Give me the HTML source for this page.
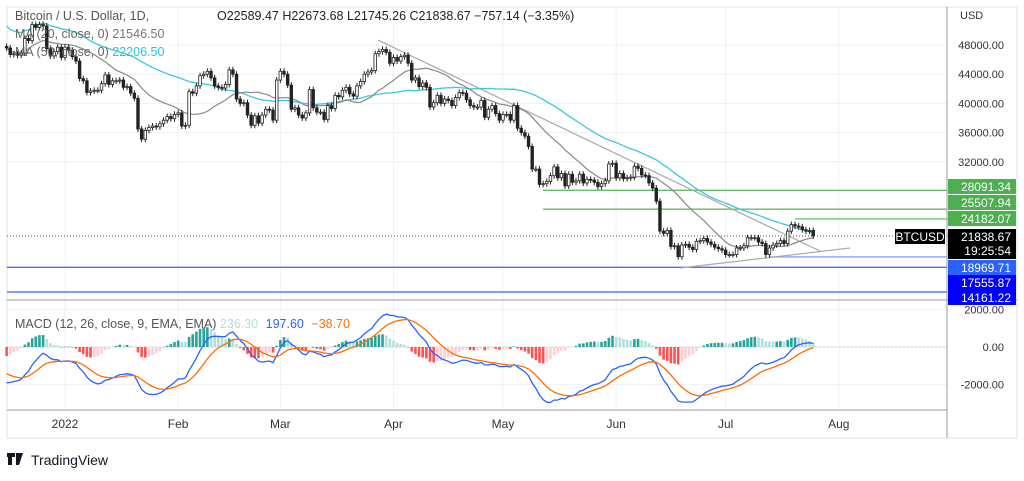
<!DOCTYPE html>
<html><head><meta charset="utf-8"><style>
body{margin:0;background:#fff;font-family:"Liberation Sans",sans-serif;}
svg text{font-family:"Liberation Sans",sans-serif;}
</style></head><body>
<svg id="c" width="1024" height="476" viewBox="0 0 1024 476" xmlns="http://www.w3.org/2000/svg">
<rect x="0" y="0" width="1024" height="476" fill="#fff"/>
<rect x="7" y="7" width="1010" height="431" fill="none" stroke="#e0e3eb"/>
<g id="grid"></g>
<g id="levels"></g>
<g id="price"></g>
<g id="macd"></g>
<line x1="947" y1="7" x2="947" y2="438" stroke="#999"/>
<line x1="7" y1="300" x2="1017" y2="300" stroke="#999"/>
<line x1="7" y1="410" x2="947" y2="410" stroke="#999"/>
<g id="axes"></g>
<g font-size="12.5">
<text x="15" y="20" fill="#555">Bitcoin / U.S. Dollar, 1D,</text>
<text x="217" y="20" fill="#222">O22589.47  H22673.68  L21745.26  C21838.67  −757.14 (−3.35%)</text>
<text x="15" y="38" fill="#666">MA (20, close, 0) <tspan fill="#777">21546.50</tspan></text>
<text x="15" y="56" fill="#666">MA (50, close, 0) <tspan fill="#26c6da">22206.50</tspan></text>
<text x="15" y="328" fill="#555">MACD (12, 26, close, 9, EMA, EMA) <tspan fill="#b2dfdb">236.30</tspan> <tspan fill="#2962ff" dx="4">197.60</tspan> <tspan fill="#ff6d00" dx="4">−38.70</tspan></text>
<text x="960" y="19" fill="#333" font-size="11">USD</text>
</g>
<g>
<path d="M7 453h8v4h-3v8h-4v-8H7z M16 453h3l-2 12h-1z M19 453h4l-4 12h-2z" fill="#131722"/>
<text x="31" y="465" font-size="14" fill="#131722">TradingView</text>
</g>
</svg>
<script>
const dec=[47600,46700,46800,46600,46900,48900,48600,50800,50400,50800,50600,47500,46500,47100,47700,46300];
const jan=[47700,47300,46400,45800,43400,43100,41500,41700,41800,41800,42700,43900,42600,43100,43100,43200,42200,42300,41400,40700,36500,35100,36300,36700,36900,36800,37200,37700,38200,37900,38500];
const feb=[38700,36900,37000,41600,41400,42400,43800,44000,44400,43500,42400,42200,42100,42600,44600,44000,40600,40000,40100,38400,37000,38300,37300,38400,39200,39100,37700,43200];
const mar=[44400,44000,42500,39200,39400,38400,38000,38700,41900,39400,38800,38800,37800,39700,39300,41100,40900,41800,42200,41300,41000,42400,43000,44000,44300,44500,46800,47100,47400,47000,45500];
const apr=[46300,45800,46400,46600,45500,43200,43500,42300,42800,42200,39500,40100,41100,40000,40600,40400,39700,40800,41500,41400,40500,39700,39500,39500,40400,38100,39200,39700,38600,37700];
const may=[38500,38500,37700,39700,36600,36000,35500,34100,31000,31000,28900,29000,29300,30100,31300,29800,30400,28700,30300,29200,29400,30300,29100,29600,29500,29200,28600,29000,29400,31700,31800];
const jun=[29800,30400,29700,29800,29900,31400,31100,30200,30100,29100,28400,26600,22500,22200,22600,20400,20500,19000,20600,20700,20300,20000,21100,21200,21500,21000,20700,20300,20100,19900];
const jul=[19300,19300,19300,20200,20200,20500,21600,21600,21600,21000,20800,19300,20200,20600,20800,21200,20800,22500,23400,23200,23100,22700,22500,22600,21838.67];
const closes=[].concat(dec,jan,feb,mar,apr,may,jun,jul);
const firstOpen=47800;
const priceTicks=[48000,44000,40000,36000,32000];
const macdTicks=[2000,0,-2000];
const monthLabels=["2022","Feb","Mar","Apr","May","Jun","Jul","Aug"];
const monthDays=[0,31,59,90,120,151,181,212];
const levelValues=[28091.34,25507.94,24182.07,18969.71,17555.87,14161.22];
const startDay=-16;
const seedE12=48300, seedE26=50300, seedSig=-1300;

const NS="http://www.w3.org/2000/svg";
function mk(tag,attrs,parent,txt){const e=document.createElementNS(NS,tag);for(const k in attrs)e.setAttribute(k,attrs[k]);if(txt!==undefined)e.textContent=txt;parent.appendChild(e);return e;}
const xDay=d=>65+d*3.65;
const xI=i=>xDay(startDay+i);
const yP=p=>45+(48000-p)*0.0073;
const yM=v=>347-v*0.01875;
const G=id=>document.getElementById(id);

monthDays.forEach((d,i)=>{
  const l=mk('line',{x1:xDay(d),x2:xDay(d),y1:7,y2:410,stroke:'#eef1f6'},G('grid'));
  
  
  const t=mk('text',{x:xDay(d),y:428,'font-size':12,fill:'#333','text-anchor':'middle'},G('axes'),monthLabels[i]);
  
  
});
priceTicks.forEach(p=>{
  const l=mk('line',{x1:7,x2:947,y1:yP(p),y2:yP(p),stroke:'#eef1f6'},G('grid'));
  
  
  const t=mk('text',{x:1004,y:yP(p)+4,'font-size':11,fill:'#333','text-anchor':'end'},G('axes'),p.toFixed(2));
  
  
});
macdTicks.forEach(v=>{
  const l=mk('line',{x1:7,x2:947,y1:yM(v),y2:yM(v),stroke:'#eef1f6'},G('grid'));
  
  
  const t=mk('text',{x:1004,y:yM(v)+4,'font-size':11,fill:'#333','text-anchor':'end'},G('axes'),v.toFixed(2));
  
  
});
const zl=mk('line',{x1:7,x2:947,y1:yM(0),y2:yM(0),stroke:'#ccc','stroke-dasharray':'2,2'},G('grid'));



const levelStyle=[[543,'#66bb6a'],[543,'#66bb6a'],[795,'#66bb6a'],[770,'#8c9eff'],[7,'#3d5afe'],[7,'#3d5afe']];
levelValues.forEach((v,i)=>{
  const l=mk('line',{x1:levelStyle[i][0],x2:947,y1:yP(v),y2:yP(v),stroke:levelStyle[i][1],'stroke-width':1.3},G('levels'));
  
  
});
const tl1=mk('line',{x1:378,y1:yP(48685),x2:820,y2:yP(19781),stroke:'#aaa','stroke-width':1.2},G('levels'));


const tl2=mk('line',{x1:680,y1:yP(17452),x2:850,y2:yP(20192),stroke:'#aaa','stroke-width':1.2},G('levels'));


const lp=closes[closes.length-1];
const pl=mk('line',{x1:7,x2:947,y1:yP(lp),y2:yP(lp),stroke:'#555','stroke-dasharray':'1,2'},G('levels'));



function sma(n){return closes.map((c,i)=>{const s=closes.slice(Math.max(0,i-n+1),i+1);return s.reduce((a,b)=>a+b,0)/s.length;});}
function ema(arr,n,seed){const k=2/(n+1);let out=[];arr.forEach((v,i)=>out.push(v*k+(i?out[i-1]:seed)*(1-k)));return out;}
function path(vals,yf){return vals.map((v,i)=>(i?'L':'M')+xI(i).toFixed(1)+' '+yf(v).toFixed(1)).join('');}
const ma50=sma(50).map((v,i)=>i<50?v+(50-i)*60:v);
const m50=mk('path',{d:path(ma50,yP),fill:'none',stroke:'#3cc8dc','stroke-width':1.3},G('price'));


const m20=mk('path',{d:path(sma(20),yP),fill:'none',stroke:'#888','stroke-width':1.2},G('price'));



closes.forEach((c,i)=>{
  const o=i?closes[i-1]:firstOpen;
  const x=xI(i);
  const top=yP(Math.max(o,c)),bot=yP(Math.min(o,c));
  const w=mk('line',{x1:x,x2:x,y1:top-3,y2:bot+3,stroke:'#222','stroke-width':1},G('price'));
  
  
  const r=mk('rect',{x:x-1.3,y:top,width:2.6,height:Math.max(1,bot-top),fill:c>=o?'#fff':'#222',stroke:'#222','stroke-width':0.8},G('price'));
  
  
});

const e12=ema(closes,12,seedE12),e26=ema(closes,26,seedE26);
const macdLine=e12.map((v,i)=>v-e26[i]);
const sig=ema(macdLine,9,seedSig);
const hist=macdLine.map((v,i)=>v-sig[i]);
hist.forEach((h,i)=>{
  const prev=i?hist[i-1]:0;
  const col=h>=0?(h>=prev?'#26a69a':'#b2dfdb'):(h<prev?'#ff5252':'#ffcdd2');
  const y0=yM(0),y1=yM(h);
  const r=mk('rect',{x:xI(i)-1.3,y:Math.min(y0,y1),width:2.6,height:Math.max(0.5,Math.abs(y1-y0)),fill:col},G('macd'));
  
  
});
const ml=mk('path',{d:path(macdLine,yM),fill:'none',stroke:'#2962ff','stroke-width':1.3},G('macd'));


const sl=mk('path',{d:path(sig,yM),fill:'none',stroke:'#ff6d00','stroke-width':1.3},G('macd'));



const boxY=[187,203,219,268,283,298];
const boxCol=['#4caf50','#4caf50','#4caf50','#2962ff','#0000ff','#0000ff'];
levelValues.forEach((v,i)=>{
  const r=mk('rect',{x:948,y:boxY[i]-8,width:68,height:15,fill:boxCol[i]},G('axes'));
  
  
  const t=mk('text',{x:1011,y:boxY[i]+4,'font-size':12,fill:'#fff','text-anchor':'end'},G('axes'),v.toFixed(2));
  
  
});
const lb=mk('rect',{x:948,y:229,width:68,height:30,fill:'#000'},G('axes'));


const lt=mk('text',{x:1011,y:241,'font-size':12,fill:'#fff','text-anchor':'end'},G('axes'),lp.toFixed(2));


const ct=mk('text',{x:1011,y:255,'font-size':12,fill:'#fff','text-anchor':'end'},G('axes'),'19:25:54');


const sb=mk('rect',{x:895,y:229,width:50,height:15,fill:'#000'},G('axes'));


const st=mk('text',{x:920,y:241,'font-size':12,fill:'#fff','text-anchor':'middle'},G('axes'),'BTCUSD');


</script>
</body></html>
